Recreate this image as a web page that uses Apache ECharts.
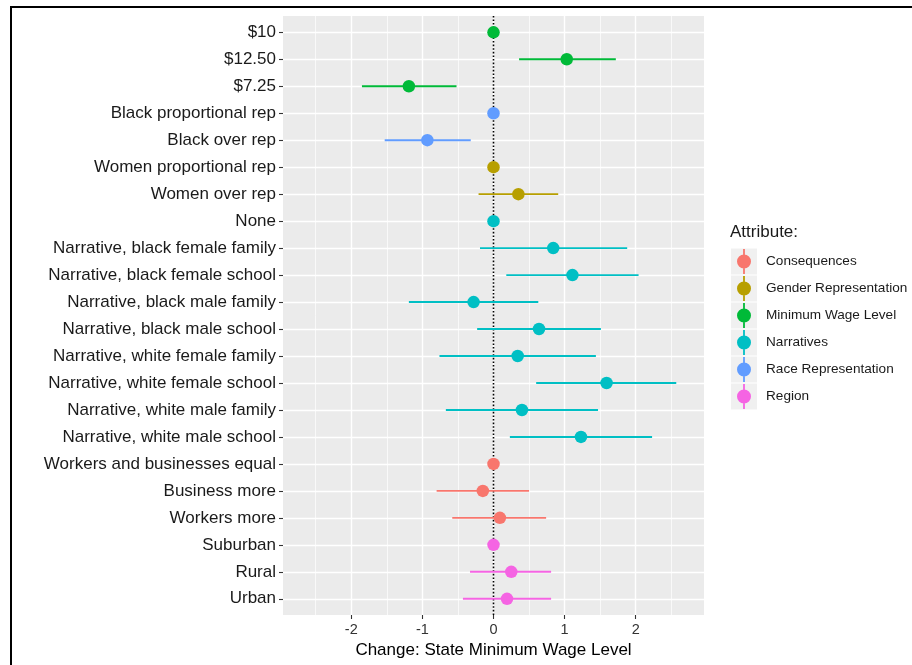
<!DOCTYPE html>
<html>
<head>
<meta charset="utf-8">
<script src="https://cdn.jsdelivr.net/npm/echarts@6/dist/echarts.min.js"></script>
<style>
html,body{margin:0;padding:0;background:#fff;}
#chart{width:912px;height:665px;}
</style>
</head>
<body>
<div id="chart"></div>
<script>
// ---- data ----
const categories = ['$10', '$12.50', '$7.25', 'Black proportional rep', 'Black over rep',
  'Women proportional rep', 'Women over rep', 'None',
  'Narrative, black female family', 'Narrative, black female school',
  'Narrative, black male family', 'Narrative, black male school',
  'Narrative, white female family', 'Narrative, white female school',
  'Narrative, white male family', 'Narrative, white male school',
  'Workers and businesses equal', 'Business more', 'Workers more',
  'Suburban', 'Rural', 'Urban'];
const attribute = ['Minimum Wage Level', 'Minimum Wage Level', 'Minimum Wage Level',
  'Race Representation', 'Race Representation',
  'Gender Representation', 'Gender Representation',
  'Narratives', 'Narratives', 'Narratives', 'Narratives', 'Narratives',
  'Narratives', 'Narratives', 'Narratives', 'Narratives',
  'Consequences', 'Consequences', 'Consequences',
  'Region', 'Region', 'Region'];
const estimate = [0, 1.03, -1.19, 0, -0.93, 0, 0.35, 0, 0.84, 1.11, -0.28, 0.64,
  0.34, 1.59, 0.40, 1.23, 0, -0.15, 0.09, 0, 0.25, 0.19];
const lower = [null, 0.36, -1.85, null, -1.53, null, -0.21, null, -0.19, 0.18, -1.19, -0.23,
  -0.76, 0.60, -0.67, 0.23, null, -0.80, -0.58, null, -0.33, -0.43];
const upper = [null, 1.72, -0.52, null, -0.32, null, 0.91, null, 1.88, 2.04, 0.63, 1.51,
  1.44, 2.57, 1.47, 2.23, null, 0.50, 0.74, null, 0.81, 0.81];
const groups = ['Consequences', 'Gender Representation', 'Minimum Wage Level',
  'Narratives', 'Race Representation', 'Region'];
const groupColors = ['#F8766D', '#B79F00', '#00BA38', '#00BFC4', '#619CFF', '#F564E3'];
const xTicks = [-2, -1, 0, 1, 2];
const xMinorTicks = [-2.5, -1.5, -0.5, 0.5, 1.5, 2.5];
const referenceX = 0;

// ---- layout ----
const FONT = '"Liberation Sans", Arial, Helvetica, sans-serif';
const PANEL = {left: 283, top: 16, width: 421, height: 599};
const X_MIN = -2.96, X_MAX = 2.96;
const ROW_TOP = 32.3, ROW_BOTTOM = 598.8;
const LEG = {left: 737, top: 249, step: 27, keyLeft: 731, keySize: 26, iconW: 14, iconH: 25};

const chart = echarts.init(document.getElementById('chart'), null, {renderer: 'canvas'});

const series = [];
groups.forEach(function (g, gi) {
  const idx = categories.map(function (c, i) { return i; })
    .filter(function (i) { return attribute[i] === g; });
  series.push({
    name: g,
    type: 'scatter',
    xAxisIndex: 2, yAxisIndex: 1,
    symbol: 'circle',
    symbolSize: 12.5,
    itemStyle: {color: groupColors[gi], opacity: 1},
    zlevel: 1, z: 4,
    silent: true,
    data: idx.map(function (i) { return [estimate[i], categories[i]]; })
  });
});
groups.forEach(function (g, gi) {
  const idx = categories.map(function (c, i) { return i; })
    .filter(function (i) { return attribute[i] === g && lower[i] != null; });
  series.push({
    name: g,
    type: 'custom',
    xAxisIndex: 2, yAxisIndex: 1,
    zlevel: 1, z: 3,
    silent: true,
    itemStyle: {color: groupColors[gi]},
    encode: {x: [0, 1], y: 2},
    renderItem: function (params, api) {
      const y = api.value(2);
      const p1 = api.coord([api.value(0), y]);
      const p2 = api.coord([api.value(1), y]);
      return {
        type: 'line',
        shape: {x1: p1[0], y1: p1[1], x2: p2[0], y2: p2[1]},
        style: {stroke: groupColors[gi], lineWidth: 1.9}
      };
    },
    data: idx.map(function (i) { return [lower[i], upper[i], categories[i]]; })
  });
});
series.push({
  type: 'line',
  xAxisIndex: 0, yAxisIndex: 0,
  symbol: 'none',
  silent: true,
  z: 2,
  lineStyle: {color: '#000', width: 1.6, type: [1.6, 2.0]},
  data: [[referenceX, 0], [referenceX, 1]]
});

const legendIcon = 'path://M6.1,0 L7.9,0 L7.9,25 L6.1,25 Z M7,5.5 A7,7 0 1,1 7,19.5 A7,7 0 1,1 7,5.5 Z';

const graphics = [
  {type: 'line', shape: {x1: 10, y1: 7, x2: 912, y2: 7}, style: {stroke: '#000', lineWidth: 2}, silent: true},
  {type: 'line', shape: {x1: 11, y1: 6, x2: 11, y2: 665}, style: {stroke: '#000', lineWidth: 2}, silent: true}
];
groups.forEach(function (g, gi) {
  graphics.push({
    type: 'rect',
    shape: {x: LEG.keyLeft, y: LEG.top - 0.5 + gi * LEG.step, width: LEG.keySize, height: LEG.keySize},
    style: {fill: '#F0F0F0'},
    silent: true, z: -1
  });
});

const hiddenLine = {show: true, onZero: false, lineStyle: {color: 'rgba(0,0,0,0)', width: 0}};

const option = {
  backgroundColor: '#ffffff',
  animation: false,
  textStyle: {fontFamily: FONT},
  title: {
    text: 'Attribute:',
    left: 730, top: 222, padding: 0,
    textStyle: {fontSize: 17, fontWeight: 'normal', color: '#1a1a1a', fontFamily: FONT, lineHeight: 20}
  },
  legend: {
    orient: 'vertical',
    left: LEG.left, top: LEG.top, padding: 0,
    itemWidth: LEG.iconW, itemHeight: LEG.iconH, itemGap: LEG.step - LEG.iconH,
    selectedMode: false,
    data: groups.map(function (g) { return {name: g, icon: legendIcon}; }),
    itemStyle: {borderWidth: 0},
    textStyle: {fontSize: 13.6, color: '#1a1a1a', fontFamily: FONT, padding: [0, 0, 0, 10]}
  },
  graphic: graphics,
  grid: [
    {left: PANEL.left, top: PANEL.top, width: PANEL.width, height: PANEL.height,
     show: true, backgroundColor: '#EBEBEB', borderWidth: 0, containLabel: false},
    {left: PANEL.left, top: ROW_TOP, width: PANEL.width, height: ROW_BOTTOM - ROW_TOP,
     show: false, containLabel: false}
  ],
  xAxis: [
    {
      type: 'value', gridIndex: 0, min: X_MIN, max: X_MAX, position: 'bottom',
      axisLine: hiddenLine,
      axisTick: {show: true, inside: false, length: 4, lineStyle: {color: '#333', width: 1.1}, customValues: xTicks},
      axisLabel: {show: true, customValues: xTicks, fontSize: 14.5, color: '#333', margin: 7, fontFamily: FONT},
      splitLine: {show: true, lineStyle: {color: '#ffffff', width: 1.4}},
      name: 'Change: State Minimum Wage Level',
      nameLocation: 'middle', nameGap: 24,
      nameTextStyle: {fontSize: 17, color: '#000', fontFamily: FONT}
    },
    {
      type: 'value', gridIndex: 0, min: X_MIN, max: X_MAX, position: 'top',
      axisLine: {show: false, onZero: false},
      axisTick: {show: false, customValues: xMinorTicks},
      axisLabel: {show: false, customValues: xMinorTicks},
      splitLine: {show: true, lineStyle: {color: '#ffffff', width: 0.7}}
    },
    {
      type: 'value', gridIndex: 1, min: X_MIN, max: X_MAX, show: false,
      axisLine: {show: false, onZero: false},
      splitLine: {show: false}
    }
  ],
  yAxis: [
    {type: 'value', gridIndex: 0, min: 0, max: 1, show: false,
     axisLine: {show: false, onZero: false}, splitLine: {show: false}},
    {
      type: 'category', gridIndex: 1, data: categories, inverse: true, boundaryGap: false,
      position: 'left',
      axisLine: hiddenLine,
      axisTick: {show: true, inside: false, length: 4, interval: 0, lineStyle: {color: '#333', width: 1.1}},
      axisLabel: {show: true, interval: 0, fontSize: 17, color: '#1a1a1a', margin: 7, fontFamily: FONT},
      splitLine: {show: true, interval: 0, lineStyle: {color: '#ffffff', width: 1.4}}
    }
  ],
  series: series
};
chart.setOption(option);
</script>
</body>
</html>
